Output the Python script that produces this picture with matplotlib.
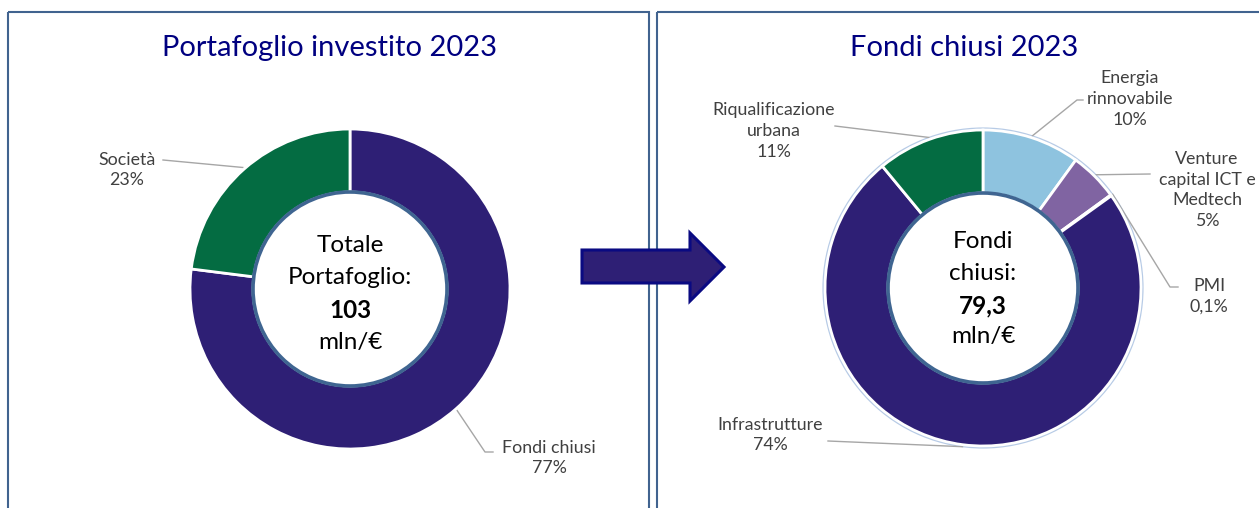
import matplotlib
matplotlib.use("Agg")
import matplotlib.pyplot as plt
from matplotlib.patches import Circle, Rectangle, Polygon
import numpy as np

# data
left_labels = ["Fondi chiusi", "Società"]
left_values = [77, 23]
left_total = "103"

right_labels = ["Energia\nrinnovabile", "Venture\ncapital ICT e\nMedtech", "PMI",
                "Infrastrutture", "Riqualificazione\nurbana"]
right_values = [10, 5, 0.1, 74, 11]
right_total = "79,3"

left_colors = ["#2E1F75", "#046C42"]
right_colors = ["#8EC3DF", "#8064A2", "#2E1F75", "#2E1F75", "#046C42"]

W, H = 1259, 508
TEXT = "#404040"
LEAD = "#A6A6A6"
FONT = ["Lato", "DejaVu Sans"]
plt.rcParams["font.family"] = FONT

fig = plt.figure(figsize=(W / 100, H / 100), dpi=100)
ax = fig.add_axes([0, 0, 1, 1])


def pct(v):
    return f"{v:g}%".replace(".", ",")


def donut(values, colors, center, radius, width):
    wedges, _ = ax.pie(values, colors=colors, startangle=-90, counterclock=True,
                       center=center, radius=radius,
                       wedgeprops=dict(width=width, edgecolor="white", linewidth=2))
    for w in wedges:
        w.set_zorder(3)
    # inner hole border
    ax.add_patch(Circle(center, radius - width, fill=False, edgecolor="#3F6591",
                        linewidth=2.6, zorder=4))
    return wedges


def leader(wedge, center, radius, path, text_xy, text):
    mid = np.deg2rad((wedge.theta1 + wedge.theta2) / 2)
    x0 = center[0] + (radius + 2) * np.cos(mid)
    y0 = center[1] + (radius + 2) * np.sin(mid)
    xs = [x0] + [p[0] for p in path]
    ys = [y0] + [p[1] for p in path]
    ax.plot(xs, ys, color=LEAD, linewidth=1, zorder=2)
    ax.text(text_xy[0], text_xy[1], text, ha="center", va="center", fontsize=12.8,
            color=TEXT, linespacing=1.38, zorder=5)


# panel frames
ax.add_patch(Rectangle((8, 12), 641, 520, fill=False, edgecolor="#41638F",
                       linewidth=1.5, zorder=1))
ax.add_patch(Rectangle((657, 12), 640, 520, fill=False, edgecolor="#41638F",
                       linewidth=1.5, zorder=1))

# titles
ax.text(330, 48, "Portafoglio investito 2023", ha="center", va="center",
        fontsize=21, color="#000080")
ax.text(964, 48, "Fondi chiusi 2023", ha="center", va="center",
        fontsize=21, color="#000080")

# left donut
lc, lr, lw = (350, 289), 160, 63
lw_ = donut(left_values, left_colors, lc, lr, lw)
leader(lw_[1], lc, lr, [(163, 160)], (127, 170),
       f"{left_labels[1]}\n{pct(left_values[1])}")
leader(lw_[0], lc, lr, [(485, 452), (493, 452)], (549, 458),
       f"{left_labels[0]}\n{pct(left_values[0])}")
for y, s, wt in [(245, "Totale", "normal"), (277, "Portafoglio:", "normal"),
                 (310, left_total, "bold"), (342, "mln/€", "normal")]:
    ax.text(lc[0], y, s, ha="center", va="center", fontsize=17.5,
            fontweight=wt, color="black", zorder=5)

# right donut
rc, rr, rw = (983, 288), 158, 63
ax.add_patch(Circle(rc, rr + 1.2, fill=False, edgecolor="#B7CBE6",
                    linewidth=2, zorder=2))
rw_ = donut(right_values, right_colors, rc, rr, rw)
label_pos = [
    ([(1077, 100), (1083, 100)], (1130, 99)),
    ([(1150, 174)], (1207, 190)),
    ([(1170, 287), (1178, 287)], (1209, 296)),
    ([(828, 441)], (770, 435)),
    ([(835, 126)], (774, 131)),
]
for w, lab, v, (path, txy) in zip(rw_, right_labels, right_values, label_pos):
    leader(w, rc, rr, path, txy, f"{lab}\n{pct(v)}")
for y, s, wt in [(241, "Fondi", "normal"), (273, "chiusi:", "normal"),
                 (306, right_total, "bold"), (336, "mln/€", "normal")]:
    ax.text(rc[0], y, s, ha="center", va="center", fontsize=17.5,
            fontweight=wt, color="black", zorder=5)

# arrow between the panels
arrow = [(582, 250), (690, 250), (690, 233), (724, 267), (690, 301),
         (690, 283), (582, 283)]
ax.add_patch(Polygon(arrow, closed=True, facecolor="#2E1F75", edgecolor="#0A0A82",
                     linewidth=2.2, zorder=6))

ax.set_xlim(0, W)
ax.set_ylim(H, 0)
ax.set_aspect("equal")
ax.axis("off")

fig.savefig("out.png", dpi=100, facecolor="white")
